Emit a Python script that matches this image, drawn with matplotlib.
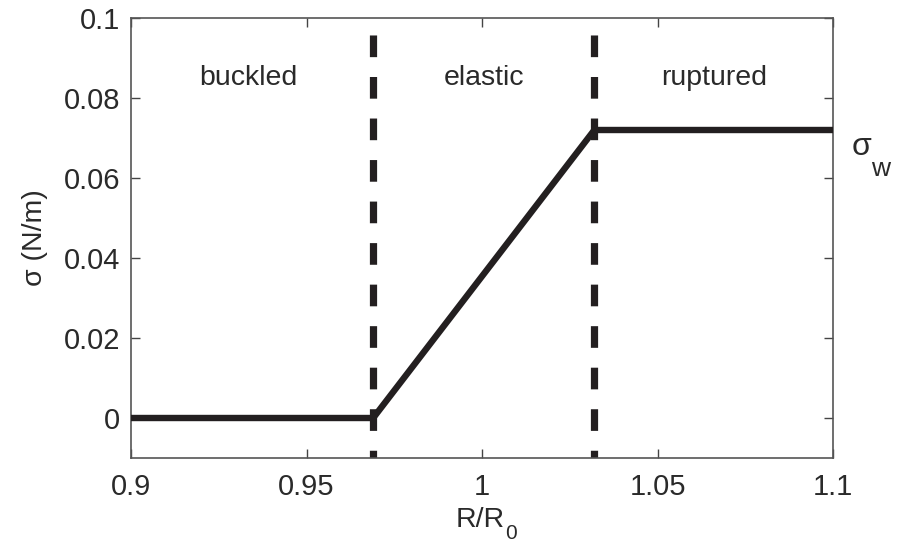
import matplotlib
matplotlib.use("Agg")
import matplotlib.pyplot as plt

plt.rcParams['font.family'] = ['Liberation Sans', 'DejaVu Sans']

# data
x_curve = [0.90, 0.969, 1.032, 1.10]
y_curve = [0.0, 0.0, 0.072, 0.072]
boundaries = [0.969, 1.032]
region_names = ["buckled", "elastic", "ruptured"]
region_x = [0.9335, 1.0005, 1.066]
region_y = 0.085
x_ticks = [0.9, 0.95, 1.0, 1.05, 1.1]
x_ticklabels = ["0.9", "0.95", "1", "1.05", "1.1"]
y_ticks = [0, 0.02, 0.04, 0.06, 0.08, 0.1]
y_ticklabels = ["0", "0.02", "0.04", "0.06", "0.08", "0.1"]
sigma_w = 0.072

fig = plt.figure(figsize=(9.03, 5.47), dpi=100)
ax = fig.add_axes([131/903, 1-458/547, (833-131)/903, (458-18)/547])

dark = "#231f20"
txt = "#2a2a2a"
ax.plot(x_curve, y_curve, color=dark, lw=4.6, solid_joinstyle='miter', zorder=3)
for b in boundaries:
    ax.plot([b, b], [0.1, -0.01], color=dark, lw=5.2,
            linestyle=(3.4, (3.0, 2.75)), dash_capstyle='butt', zorder=2)

for name, xx in zip(region_names, region_x):
    ax.text(xx, region_y, name, ha='center', va='center', fontsize=20.5, color=txt)

ax.text(1.1053, sigma_w - 0.0062, "σ", fontsize=23, color=txt,
        ha='left', va='baseline', clip_on=False)
ax.text(1.1107, sigma_w - 0.0115, "w", fontsize=19, color=txt,
        ha='left', va='baseline', clip_on=False)

ax.set_xlim(0.9, 1.1)
ax.set_ylim(-0.01, 0.1)
ax.set_xticks(x_ticks)
ax.set_xticklabels(x_ticklabels)
ax.set_yticks(y_ticks)
ax.set_yticklabels(y_ticklabels)
ax.tick_params(direction='in', length=6.5, width=1, color='#444444',
               labelsize=21, labelcolor=txt, top=True, right=True)
ax.tick_params(axis='x', pad=11)
ax.tick_params(axis='y', pad=8)
for s in ax.spines.values():
    s.set_color('#555555')
    s.set_linewidth(1.2)

# x label: "R/R" with a large, low subscript "0"
fig.text(505/903, 1 - 527/547, "R/R", fontsize=20.5, color=txt,
         ha='right', va='baseline')
fig.text(505/903, 1 - 539/547, "0", fontsize=15, color=txt,
         ha='left', va='baseline')
ax.set_ylabel("σ (N/m)", fontsize=20.5, color=txt, labelpad=11)

fig.savefig("out.png", dpi=100)
